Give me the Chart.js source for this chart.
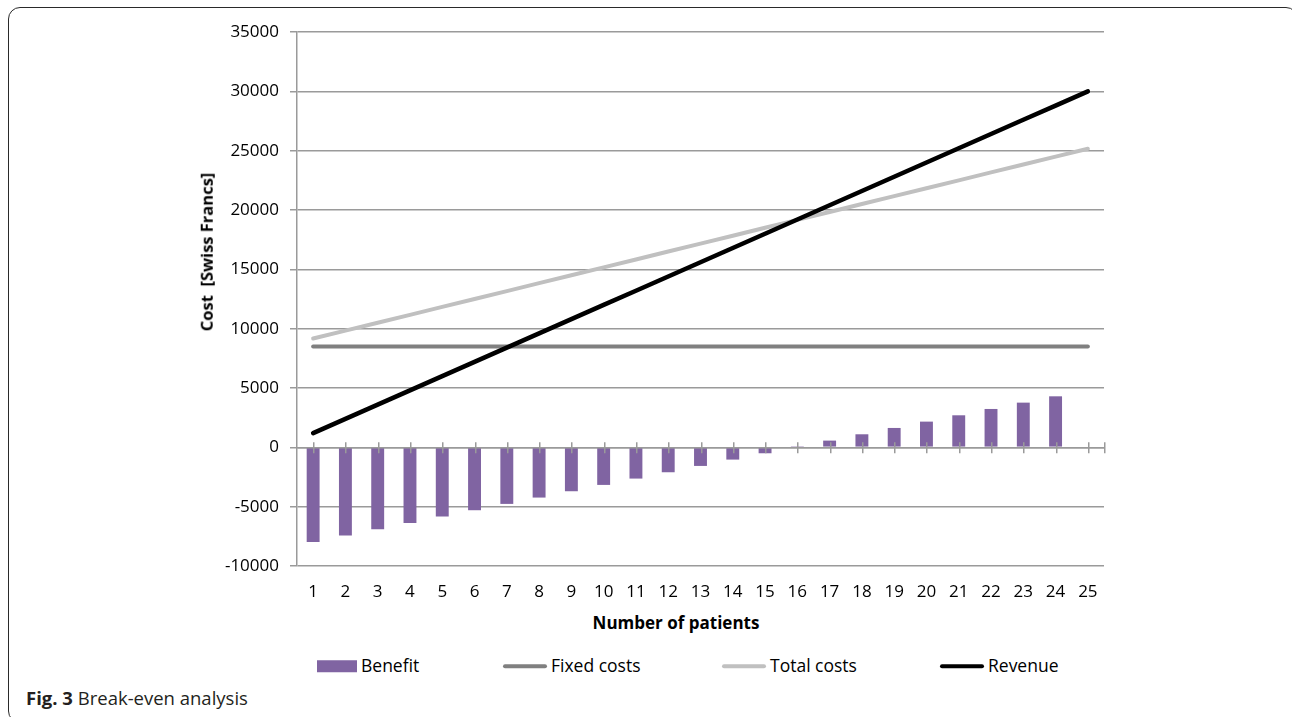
<!DOCTYPE html>
<html>
<head>
<meta charset="utf-8">
<script src="https://cdn.jsdelivr.net/npm/chart.js@4.4.1/dist/chart.umd.min.js"></script>
<style>
  html, body { margin: 0; padding: 0; background: #fff; }
  body { width: 1292px; height: 717px; position: relative; overflow: hidden; font-family: "Open Sans", sans-serif; color: #000; }
  #frame { position: absolute; left: 8px; top: 7px; width: 1290px; height: 716px; border: 1.5px solid #2a2a2a; border-radius: 12px; box-sizing: border-box; }
  #chart { position: absolute; left: 0; top: 0; }
  .axis-title { position: absolute; font-weight: 700; white-space: pre; line-height: 1; }
  #ytitle { left: 207px; top: 252px; font-size: 16.5px; transform: translate(-50%, -50%) rotate(-90deg); }
  #xtitle { left: 676px; top: 622px; font-size: 17px; transform: translate(-50%, -50%); }
  #legend { position: absolute; left: 0; top: 666px; width: 1292px; height: 0; }
  .item { position: absolute; top: 0; transform: translateY(-50%); display: flex; align-items: center; font-size: 17.5px; line-height: 1; white-space: nowrap; }
  .sw { display: inline-block; margin-right: 4px; }
  .caption { position: absolute; left: 26px; top: 698px; transform: translateY(-50%); font-size: 18.5px; color: #231f20; line-height: 1; white-space: pre; }
  .caption b { font-weight: 700; }
</style>
</head>
<body>
<div id="frame"></div>
<canvas id="chart" width="1292" height="606"></canvas>
<div id="ytitle" class="axis-title">Cost  [Swiss Francs]</div>
<div id="xtitle" class="axis-title">Number of patients</div>
<div id="legend"></div>
<div class="caption"><b>Fig. 3</b> Break-even analysis</div>

<script>
// Number of patients treated
const patients = ['1', '2', '3', '4', '5', '6', '7', '8', '9', '10', '11', '12', '13',
                  '14', '15', '16', '17', '18', '19', '20', '21', '22', '23', '24', '25'];

// Benefit (revenue minus total costs), CHF
const benefit = [-7967, -7433, -6900, -6367, -5833, -5300, -4767, -4233, -3700, -3167,
                 -2633, -2100, -1567, -1033, -500, 33, 567, 1100, 1633, 2167,
                 2700, 3233, 3767, 4300, null];

// Fixed costs, CHF
const fixedCosts = [8500, 8500, 8500, 8500, 8500, 8500, 8500, 8500, 8500, 8500,
                    8500, 8500, 8500, 8500, 8500, 8500, 8500, 8500, 8500, 8500,
                    8500, 8500, 8500, 8500, 8500];

// Total costs (fixed + variable), CHF
const totalCosts = [9167, 9833, 10500, 11167, 11833, 12500, 13167, 13833, 14500, 15167,
                    15833, 16500, 17167, 17833, 18500, 19167, 19833, 20500, 21167, 21833,
                    22500, 23167, 23833, 24500, 25167];

// Revenue, CHF
const revenue = [1200, 2400, 3600, 4800, 6000, 7200, 8400, 9600, 10800, 12000,
                 13200, 14400, 15600, 16800, 18000, 19200, 20400, 21600, 22800, 24000,
                 25200, 26400, 27600, 28800, 30000];

// Value axis range and tick step
const yMin = -10000;
const yMax = 35000;
const yStep = 5000;

// Series names and colours
const seriesNames = ['Benefit', 'Fixed costs', 'Total costs', 'Revenue'];
const seriesColors = ['#8064A2', '#808080', '#C0C0C0', '#000000'];

const GRID = '#9a9a9a';
const tickFont = { family: '"Open Sans", sans-serif', size: 17 };

// Category axis drawn through zero: a line with small crossing tick marks
const zeroAxisTicks = {
  id: 'zeroAxisTicks',
  afterDatasetsDraw(chart) {
    const { ctx, chartArea, scales: { x, y } } = chart;
    const y0 = Math.round(y.getPixelForValue(0)) + 0.75;
    ctx.save();
    ctx.strokeStyle = GRID;
    ctx.lineWidth = 1.5;
    ctx.beginPath();
    ctx.moveTo(chartArea.left, y0);
    ctx.lineTo(chartArea.right, y0);
    const xs = patients.map((_, i) => x.getPixelForValue(i));
    xs.push(chartArea.right);
    xs.forEach(px => {
      const p = Math.round(px) + 0.75;
      ctx.moveTo(p, y0 - 5.5);
      ctx.lineTo(p, y0 + 5.5);
    });
    ctx.stroke();
    ctx.restore();
  }
};

const chart = new Chart(document.getElementById('chart'), {
  type: 'bar',
  data: {
    labels: patients,
    datasets: [
      {
        type: 'bar', label: seriesNames[0], data: benefit,
        backgroundColor: seriesColors[0], borderWidth: 0,
        barPercentage: 0.4, categoryPercentage: 1, order: 4
      },
      {
        type: 'line', label: seriesNames[1], data: fixedCosts,
        borderColor: seriesColors[1], borderWidth: 4, pointRadius: 0,
        borderCapStyle: 'round', tension: 0, order: 3
      },
      {
        type: 'line', label: seriesNames[2], data: totalCosts,
        borderColor: seriesColors[2], borderWidth: 4, pointRadius: 0,
        borderCapStyle: 'round', tension: 0, order: 2
      },
      {
        type: 'line', label: seriesNames[3], data: revenue,
        borderColor: seriesColors[3], borderWidth: 4.5, pointRadius: 0,
        borderCapStyle: 'round', tension: 0, order: 1
      }
    ]
  },
  options: {
    responsive: false,
    animation: false,
    devicePixelRatio: 1,
    layout: { padding: { left: 190, right: 188, top: 32, bottom: 0 } },
    plugins: { legend: { display: false }, tooltip: { enabled: false } },
    scales: {
      x: {
        type: 'category',
        offset: true,
        grid: { display: false, drawTicks: false },
        border: { display: false },
        ticks: { font: tickFont, color: '#000', padding: 16, maxRotation: 0, autoSkip: false },
        afterFit(scale) { scale.height = 40; }
      },
      y: {
        min: yMin,
        max: yMax,
        ticks: {
          stepSize: yStep, font: tickFont, color: '#000', padding: 11,
          callback: v => String(v)
        },
        grid: { color: GRID, lineWidth: 1.5, tickLength: 7, tickColor: GRID },
        border: { color: GRID, width: 1.5 },
        afterFit(scale) { scale.width = 107; }
      }
    }
  },
  plugins: [zeroAxisTicks]
});

// Legend row built from the chart's datasets
const legendLeft = [317, 503, 722, 940];
const legend = document.getElementById('legend');
chart.data.datasets.forEach((ds, i) => {
  const item = document.createElement('div');
  item.className = 'item';
  item.style.left = legendLeft[i] + 'px';
  const sw = document.createElement('span');
  sw.className = 'sw';
  if (ds.type === 'bar') {
    sw.style.width = '40px';
    sw.style.height = '12px';
    sw.style.background = ds.backgroundColor;
  } else {
    sw.style.width = '44px';
    sw.style.height = '4px';
    sw.style.borderRadius = '2px';
    sw.style.background = ds.borderColor;
  }
  const txt = document.createElement('span');
  txt.textContent = ds.label;
  item.appendChild(sw);
  item.appendChild(txt);
  legend.appendChild(item);
});
</script>
</body>
</html>
